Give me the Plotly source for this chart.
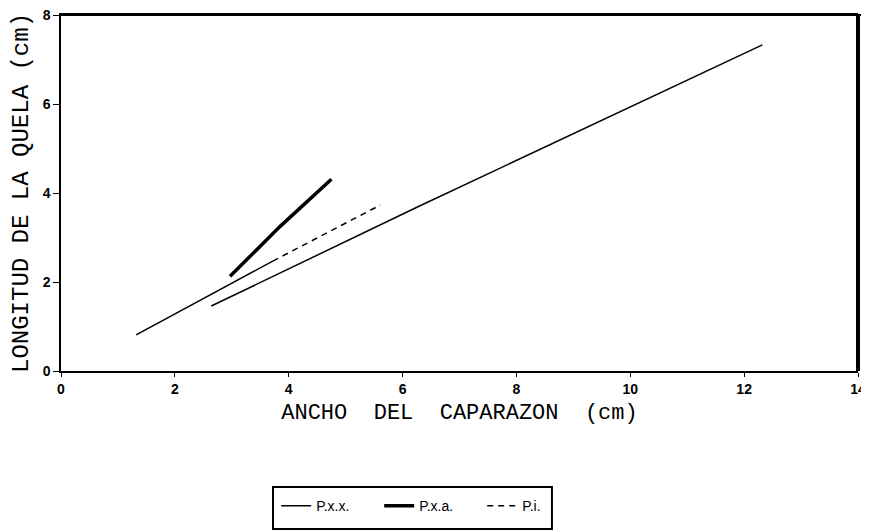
import plotly.graph_objects as go

# P.x.x. (thin solid)
pxx_x = [2.64, 6.27, 12.32]
pxx_y = [1.46, 3.69, 7.33]
# P.x.a. (thick)
pxa_x = [2.97, 3.85, 4.75]
pxa_y = [2.13, 3.25, 4.31]
# P.i. (dashed, scan shows the lower part as solid)
pi_solid_x = [1.32, 3.72]
pi_solid_y = [0.81, 2.47]
pi_dash_x = [3.72, 5.61]
pi_dash_y = [2.47, 3.73]

x_ticks = [0, 2, 4, 6, 8, 10, 12, 14]
y_ticks = [0, 2, 4, 6, 8]

fig = go.Figure()
fig.add_trace(go.Scatter(x=pxx_x, y=pxx_y, mode="lines", name="P.x.x.",
                         line=dict(color="black", width=1.5)))
fig.add_trace(go.Scatter(x=pxa_x, y=pxa_y, mode="lines", name="P.x.a.",
                         line=dict(color="black", width=3.5)))
fig.add_trace(go.Scatter(x=pi_dash_x, y=pi_dash_y, mode="lines", name="P.i.",
                         legendgroup="pi",
                         line=dict(color="black", width=1.5, dash="6px,5px")))
fig.add_trace(go.Scatter(x=pi_solid_x, y=pi_solid_y, mode="lines", name="P.i.",
                         legendgroup="pi", showlegend=False,
                         line=dict(color="black", width=1.5)))

tickfont = dict(family="Liberation Sans, Arial", size=14, color="black", weight="bold")

fig.update_xaxes(range=[0, 14], tickvals=x_ticks, ticks="outside", ticklen=4,
                 tickcolor="black", showline=True, linecolor="black", linewidth=1.5,
                 mirror=True, showgrid=False, zeroline=False, tickfont=tickfont,
                 automargin=False, ticklabeloverflow="allow",
                 title=dict(text="ANCHO  DEL  CAPARAZON  (cm)", standoff=8,
                            font=dict(family="Liberation Mono", size=22, color="black")))
fig.update_yaxes(range=[0, 8], tickvals=y_ticks, ticks="outside", ticklen=6,
                 tickcolor="black", showline=True, linecolor="black", linewidth=1.5,
                 showgrid=False, zeroline=False, tickfont=tickfont,
                 automargin=False, ticklabeloverflow="allow",
                 title=dict(text="LONGITUD DE LA QUELA (cm)", standoff=7,
                            font=dict(family="Liberation Mono", size=24, color="black")))

# frame: top line and thick right border
fig.add_shape(type="line", xref="paper", yref="paper", x0=0, x1=1.005, y0=1, y1=1,
              line=dict(color="black", width=2))
fig.add_shape(type="line", xref="paper", yref="paper", x0=1, x1=1, y0=0, y1=1,
              line=dict(color="black", width=4))
# legend frame
fig.add_shape(type="rect", xref="paper", yref="paper", x0=0.266, x1=0.616,
              y0=-0.444, y1=-0.326, line=dict(color="black", width=2))

fig.update_layout(
    width=861, height=524,
    margin=dict(l=53, r=11, t=7, b=161),
    plot_bgcolor="white", paper_bgcolor="white",
    legend=dict(orientation="h", x=0.27, xanchor="left", y=-0.335, yanchor="top",
                bgcolor="rgba(0,0,0,0)", entrywidth=58,
                font=dict(family="Liberation Sans, Arial", size=14, color="black")),
)

fig.write_html("out.html")
